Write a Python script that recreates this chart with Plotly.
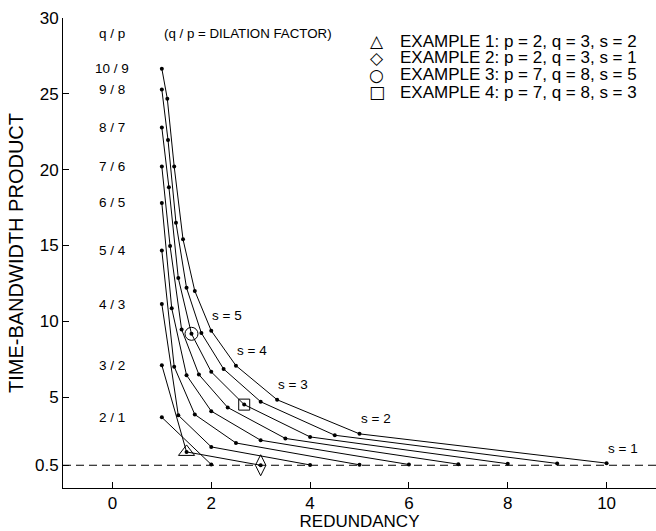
import plotly.graph_objects as go

# ---- data ----
# q/p dilation factors (label text) and, for each, the points for s = 1 .. q
labels = ["2 / 1", "3 / 2", "4 / 3", "5 / 4", "6 / 5", "7 / 6", "8 / 7", "9 / 8", "10 / 9"]

red_2_1 = [2, 1]
tbp_2_1 = [0.55, 3.66]
red_3_2 = [3, 1.5, 1]
tbp_3_2 = [0.5, 1.38, 7.1]
red_4_3 = [4, 2, 1.333, 1]
tbp_4_3 = [0.52, 1.71, 3.8, 11.13]
red_5_4 = [5, 2.5, 1.667, 1.25, 1]
tbp_5_4 = [0.53, 1.97, 3.85, 7.0, 14.66]
red_6_5 = [6, 3, 2, 1.5, 1.2, 1]
tbp_6_5 = [0.55, 2.15, 4.07, 6.44, 10.85, 17.8]
red_7_6 = [7, 3.5, 2.333, 1.75, 1.4, 1.167, 1]
tbp_7_6 = [0.57, 2.27, 4.31, 6.48, 9.46, 14.96, 20.2]
red_8_7 = [8, 4, 2.667, 2, 1.6, 1.333, 1.143, 1]
tbp_8_7 = [0.6, 2.37, 4.5, 6.66, 9.17, 12.85, 18.84, 22.78]
red_9_8 = [9, 4.5, 3, 2.25, 1.8, 1.5, 1.286, 1.125, 1]
tbp_9_8 = [0.62, 2.48, 4.69, 6.85, 9.22, 12.2, 16.5, 21.96, 25.28]
red_10_9 = [10, 5, 3.333, 2.5, 2, 1.667, 1.429, 1.25, 1.111, 1]
tbp_10_9 = [0.64, 2.57, 4.82, 7.07, 9.37, 12.0, 15.4, 20.2, 24.67, 26.66]

curves_x = [red_2_1, red_3_2, red_4_3, red_5_4, red_6_5, red_7_6, red_8_7, red_9_8, red_10_9]
curves_y = [tbp_2_1, tbp_3_2, tbp_4_3, tbp_5_4, tbp_6_5, tbp_7_6, tbp_8_7, tbp_9_8, tbp_10_9]

s_labels = ["s = 1", "s = 2", "s = 3", "s = 4", "s = 5"]

example_names = ["EXAMPLE 1: p = 2, q = 3, s = 2",
                 "EXAMPLE 2: p = 2, q = 3, s = 1",
                 "EXAMPLE 3: p = 7, q = 8, s = 5",
                 "EXAMPLE 4: p = 7, q = 8, s = 3"]
example_glyphs = ["\u25B3", "\u25C7", "\u25CB", "\u25A1"]
example_x = [1.5, 3, 1.6, 2.667]
example_y = [1.38, 0.5, 9.17, 4.5]
example_symbols = ["triangle-up-open", "diamond-tall-open", "circle-open", "square-open"]
example_sizes = [14, 15, 13, 11]

x_ticks = [0, 2, 4, 6, 8, 10]
y_ticks = [0.5, 5, 10, 15, 20, 25, 30]
y_ticktext = ["0.5", "5", "10", "15", "20", "25", "30"]

FONT = "Liberation Sans, Arial, Helvetica, sans-serif"

fig = go.Figure()

# dashed reference line at 0.5
fig.add_trace(go.Scatter(x=[-1, 11], y=[0.5, 0.5], mode="lines",
                         line=dict(color="black", width=1, dash="8px,5px"),
                         showlegend=False, hoverinfo="skip"))

for cx, cy in zip(curves_x, curves_y):
    fig.add_trace(go.Scatter(x=cx, y=cy, mode="lines+markers",
                             line=dict(color="black", width=1),
                             marker=dict(color="black", size=4),
                             showlegend=False))

for name, ex, ey, sym, sz in zip(example_names, example_x, example_y, example_symbols, example_sizes):
    fig.add_trace(go.Scatter(x=[ex], y=[ey], mode="markers", name=name,
                             showlegend=False,
                             marker=dict(symbol=sym, size=sz, color="black",
                                         line=dict(color="black", width=1))))

annotations = []
# q/p labels at left, at the height of each curve's s = q point
for lab, cy in zip(labels, curves_y):
    annotations.append(dict(x=0, y=cy[-1], text=lab, showarrow=False,
                            xanchor="center", yanchor="middle",
                            font=dict(size=13.5, family=FONT, color="black")))
annotations.append(dict(x=0, y=29, text="q / p", showarrow=False,
                        xanchor="center", yanchor="middle",
                        font=dict(size=13.5, family=FONT, color="black")))
annotations.append(dict(x=1.0, y=29, text="(q / p = DILATION FACTOR)", showarrow=False,
                        xanchor="left", yanchor="middle",
                        font=dict(size=13.3, family=FONT, color="black")))
# s labels next to the 10/9 curve points
for i, sl in enumerate(s_labels):
    annotations.append(dict(x=red_10_9[i], y=tbp_10_9[i], text=sl, showarrow=False,
                            xanchor="center", yanchor="middle", xshift=16, yshift=15,
                            font=dict(size=13.5, family=FONT, color="black")))

# legend (symbol + text), stacked rows in the upper right
row_y = [0.951, 0.915, 0.879, 0.842]
for glyph, name, ry in zip(example_glyphs, example_names, row_y):
    annotations.append(dict(xref="paper", yref="paper", x=0.5295, y=ry, text=glyph,
                            showarrow=False, xanchor="center", yanchor="middle",
                            font=dict(size=17, family="DejaVu Sans", color="black")))
    annotations.append(dict(xref="paper", yref="paper", x=0.565, y=ry, text=name,
                            showarrow=False, xanchor="left", yanchor="middle",
                            font=dict(size=17, family=FONT, color="black")))

fig.update_layout(
    width=656, height=531,
    margin=dict(l=63, r=0, t=18, b=43),
    paper_bgcolor="white", plot_bgcolor="white",
    font=dict(family=FONT, size=17, color="black"),
    annotations=annotations,
    showlegend=False,
)
fig.update_xaxes(range=[-1, 11], tickvals=x_ticks, ticks="inside", ticklen=6,
                 showline=True, linecolor="black", linewidth=1, showgrid=False,
                 zeroline=False, tickcolor="black", automargin=False,
                 tickfont=dict(size=17),
                 title=dict(text="REDUNDANCY", standoff=1, font=dict(size=17)))
fig.update_yaxes(range=[-1, 30], tickvals=y_ticks, ticktext=y_ticktext,
                 ticks="inside", ticklen=6, automargin=False,
                 showline=True, linecolor="black", linewidth=1, showgrid=False,
                 zeroline=False, tickcolor="black", tickfont=dict(size=17),
                 title=dict(text="TIME-BANDWIDTH PRODUCT", standoff=5, font=dict(size=20)))

fig.write_html("out.html", config={"displayModeBar": False},
               post_script="document.body.style.margin='0';document.body.style.overflow='hidden';")
